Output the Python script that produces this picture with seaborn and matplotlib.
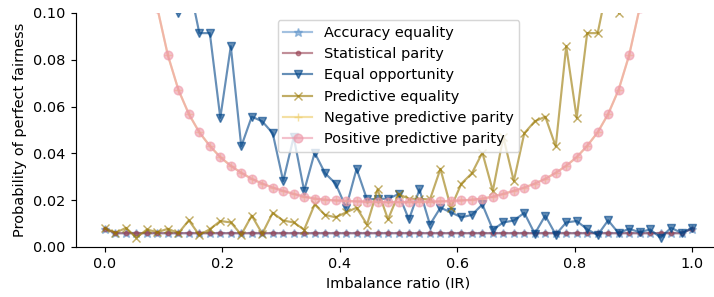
import numpy as np
import matplotlib
matplotlib.use("Agg")
import matplotlib.pyplot as plt
import seaborn as sns

# imbalance ratio grid (57 points from 0 to 1)
ir = np.linspace(0, 1, 57)

accuracy_equality = [
    0.0078, 0.0059, 0.0059, 0.0059, 0.0059, 0.0059, 0.0059, 0.0059, 0.0059, 0.0059,
    0.0059, 0.0059, 0.0059, 0.0059, 0.0059, 0.0059, 0.0059, 0.0059, 0.0059, 0.0059,
    0.0059, 0.0059, 0.0059, 0.0059, 0.0059, 0.0059, 0.0059, 0.0059, 0.0059, 0.0059,
    0.0059, 0.0059, 0.0059, 0.0059, 0.0059, 0.0059, 0.0059, 0.0059, 0.0059, 0.0059,
    0.0059, 0.0059, 0.0059, 0.0059, 0.0059, 0.0059, 0.0059, 0.0059, 0.0059, 0.0059,
    0.0059, 0.0059, 0.0059, 0.0059, 0.0059, 0.0059, 0.0078,
]
statistical_parity = [
    0.0078, 0.0059, 0.0059, 0.0059, 0.0059, 0.0059, 0.0059, 0.0059, 0.0059, 0.0059,
    0.0059, 0.0059, 0.0059, 0.0059, 0.0059, 0.0059, 0.0059, 0.0059, 0.0059, 0.0059,
    0.0059, 0.0059, 0.0059, 0.0059, 0.0059, 0.0059, 0.0059, 0.0059, 0.0059, 0.0059,
    0.0059, 0.0059, 0.0059, 0.0059, 0.0059, 0.0059, 0.0059, 0.0059, 0.0059, 0.0059,
    0.0059, 0.0059, 0.0059, 0.0059, 0.0059, 0.0059, 0.0059, 0.0059, 0.0059, 0.0059,
    0.0059, 0.0059, 0.0059, 0.0059, 0.0059, 0.0059, 0.0078,
]
equal_opportunity = [
    0.45, 0.35, 0.28, 0.22, 0.18, 0.15, 0.13, 0.1001, 0.113, 0.0914,
    0.0914, 0.0552, 0.0858, 0.0430, 0.0557, 0.0537, 0.0486, 0.0282, 0.0470, 0.0240,
    0.0403, 0.0315, 0.0271, 0.0168, 0.0334, 0.0203, 0.0206, 0.0206, 0.0226, 0.0118,
    0.0246, 0.0096, 0.0168, 0.0148, 0.0127, 0.0137, 0.0182, 0.0074, 0.0105, 0.0113,
    0.0146, 0.0057, 0.0134, 0.0053, 0.0105, 0.0111, 0.0076, 0.0051, 0.0114, 0.0059,
    0.0078, 0.0063, 0.0075, 0.0040, 0.0082, 0.0060, 0.0080,
]
predictive_equality = [
    0.0080, 0.0060, 0.0082, 0.0040, 0.0075, 0.0063, 0.0078, 0.0059, 0.0114, 0.0051,
    0.0076, 0.0111, 0.0105, 0.0053, 0.0134, 0.0057, 0.0146, 0.0113, 0.0105, 0.0074,
    0.0182, 0.0137, 0.0127, 0.0148, 0.0168, 0.0096, 0.0246, 0.0118, 0.0226, 0.0206,
    0.0206, 0.0203, 0.0334, 0.0168, 0.0271, 0.0315, 0.0403, 0.0240, 0.0470, 0.0282,
    0.0486, 0.0537, 0.0557, 0.0430, 0.0858, 0.0552, 0.0914, 0.0914, 0.113, 0.1001,
    0.13, 0.15, 0.18, 0.22, 0.28, 0.35, 0.45,
]
negative_predictive_parity = [
    1.0, 0.6, 0.35, 0.2, 0.14, 0.102, 0.0819, 0.0672, 0.0568, 0.0490,
    0.0432, 0.0384, 0.0347, 0.0317, 0.0291, 0.0271, 0.0254, 0.0240, 0.0227, 0.0215,
    0.0207, 0.0202, 0.0199, 0.0197, 0.0195, 0.0194, 0.0193, 0.0192, 0.0192, 0.0192,
    0.0193, 0.0194, 0.0195, 0.0197, 0.0199, 0.0202, 0.0207, 0.0215, 0.0227, 0.0240,
    0.0254, 0.0271, 0.0291, 0.0317, 0.0347, 0.0384, 0.0432, 0.0490, 0.0568, 0.0672,
    0.0819, 0.102, 0.14, 0.2, 0.35, 0.6, 1.0,
]
positive_predictive_parity = [
    1.0, 0.6, 0.35, 0.2, 0.14, 0.102, 0.0819, 0.0672, 0.0568, 0.0490,
    0.0432, 0.0384, 0.0347, 0.0317, 0.0291, 0.0271, 0.0254, 0.0240, 0.0227, 0.0215,
    0.0207, 0.0202, 0.0199, 0.0197, 0.0195, 0.0194, 0.0193, 0.0192, 0.0192, 0.0192,
    0.0193, 0.0194, 0.0195, 0.0197, 0.0199, 0.0202, 0.0207, 0.0215, 0.0227, 0.0240,
    0.0254, 0.0271, 0.0291, 0.0317, 0.0347, 0.0384, 0.0432, 0.0490, 0.0568, 0.0672,
    0.0819, 0.102, 0.14, 0.2, 0.35, 0.6, 1.0,
]

series = [
    ("Accuracy equality", accuracy_equality, "*", "#6699CC"),
    ("Statistical parity", statistical_parity, ".", "#994455"),
    ("Equal opportunity", equal_opportunity, "v", "#004488"),
    ("Predictive equality", predictive_equality, "x", "#997700"),
    ("Negative predictive parity", negative_predictive_parity, "+", "#EECC66"),
    ("Positive predictive parity", positive_predictive_parity, "o", "#EE99AA"),
]

fig = plt.figure(figsize=(714 / 104, 297 / 104), dpi=104)
ax = fig.add_axes([75.65 / 714, 50 / 297, 645.7 / 714, 234 / 297])

for name, vals, marker, color in series:
    sns.lineplot(x=ir, y=vals, ax=ax, marker=marker, color=color, label=name,
                 alpha=0.6, linewidth=1.5, markersize=6,
                 markeredgecolor=None, markeredgewidth=1.0)

ax.set_xlim(-0.05, 1.05)
ax.set_ylim(0, 0.1)
ax.set_xlabel("Imbalance ratio (IR)")
ax.set_ylabel("Probability of perfect fairness")
ax.legend(loc="upper center")
sns.despine(ax=ax)

fig.savefig("out.png", dpi=104)
